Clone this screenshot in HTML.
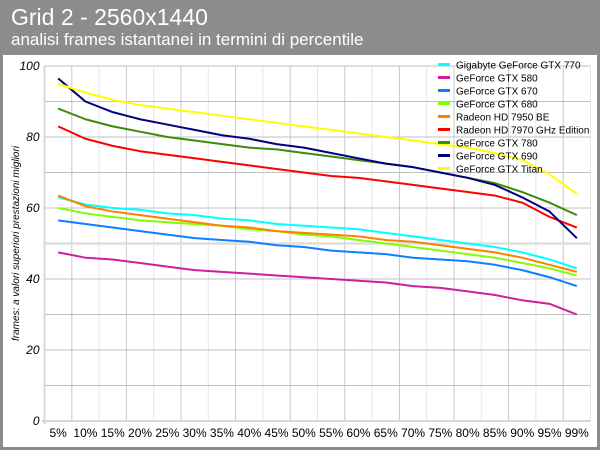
<!DOCTYPE html>
<html><head><meta charset="utf-8"><style>
html,body{margin:0;padding:0;background:#fff}
#wrap{position:relative;width:600px;height:450px;background:#8c8c8c;font-family:"Liberation Sans",sans-serif;overflow:hidden}
#panel{position:absolute;left:3px;top:55px;width:594px;height:392px;background:#fff}
.t1{position:absolute;left:11px;top:4px;color:#fff;font-size:23px}
.t2{position:absolute;left:11px;top:30px;color:#fff;font-size:17px}
svg{position:absolute;left:0;top:0}
</style></head><body>
<div id="wrap">
<div id="panel"></div>
<div class="t1">Grid 2 - 2560x1440</div>
<div class="t2">analisi frames istantanei in termini di percentile</div>
<svg id="chart" width="600" height="450"></svg>
</div>
<script>
const categories=["5%","10%","15%","20%","25%","30%","35%","40%","45%","50%","55%","60%","65%","70%","75%","80%","85%","90%","95%","99%"];
const yTicks=[0,20,40,60,80,100];
const seriesNames=["Gigabyte GeForce GTX 770","GeForce GTX 580","GeForce GTX 670","GeForce GTX 680","Radeon HD 7950 BE","Radeon HD 7970 GHz Edition","GeForce GTX 780","GeForce GTX 690","GeForce GTX Titan"];
const seriesColors=["#00ffff","#cc1f9c","#0a80ff","#80ff00","#ff8000","#ff0000","#3c8c0a","#000080","#ffff00"];
const s770=[63,61,60,59.5,58.5,58,57,56.5,55.5,55,54.5,54,53,52,51,50,49,47.5,45.5,43];
const s580=[47.5,46,45.5,44.5,43.5,42.5,42,41.5,41,40.5,40,39.5,39,38,37.5,36.5,35.5,34,33,30];
const s670=[56.5,55.5,54.5,53.5,52.5,51.5,51,50.5,49.5,49,48,47.5,47,46,45.5,45,44,42.5,40.5,38];
const s680=[60,58.5,57.5,56.5,56,55.5,55,54,53.5,52.5,52,51,50,49,48,47,46,44.5,43,41];
const s7950=[63.5,60.5,59,58,57,56,55,54.5,53.5,53,52.5,52,51,50.5,49.5,48.5,47.5,46,44,42];
const s7970=[83,79.5,77.5,76,75,74,73,72,71,70,69,68.5,67.5,66.5,65.5,64.5,63.5,61.5,57.5,54.5];
const s780=[88,85,83,81.5,80,79,78,77,76.5,75.5,74.5,73.5,72.5,71.5,70,68.5,67,64.5,61.5,58];
const s690=[96.5,90,87,85,83.5,82,80.5,79.5,78,77,75.5,74,72.5,71.5,70,68.5,66.5,63,59,51.5];
const sTitan=[95,92.5,90.5,89,88,87,86,85,84,83,82,81,80,79,78,77,75.5,73.5,69.5,64];
const seriesData=[s770,s580,s670,s680,s7950,s7970,s780,s690,sTitan];

const svg=document.getElementById('chart');
const NS='http://www.w3.org/2000/svg';
const L=44.5,R=590.5,T=66,B=421,yMax=100;
const band=(R-L)/categories.length;
const xS=i=>L+band*(i+0.5);
const yS=v=>B-(v/yMax)*(B-T);
function mk(tag,attrs){const e=document.createElementNS(NS,tag);for(const k in attrs)e.setAttribute(k,attrs[k]);svg.appendChild(e);return e;}
// vertical grid
for(let i=1;i<=categories.length;i++){
  const x=L+band*i;
  const g=mk('line',{x1:x,x2:x,y1:T,y2:B,stroke:i%2?'#c8c8c8':'#e6e6e6','stroke-width':1});
  
  
}
// horizontal grid every 10
for(let v=10;v<=yMax;v+=10){
  const y=yS(v);
  const g=mk('line',{x1:L,x2:R,y1:y,y2:y,stroke:v===50?'#dddddd':'#c0c0c0','stroke-width':v===50?2.5:1});
  
  
}
// axes
const ax=mk('line',{x1:L,x2:L,y1:T,y2:B+3,stroke:'#d8d8d8','stroke-width':2});


const bx=mk('line',{x1:L-3,x2:R,y1:B,y2:B,stroke:'#d8d8d8','stroke-width':2});


yTicks.forEach(v=>{
  const t=mk('text',{x:L-5,y:yS(v)+4,'text-anchor':'end','font-size':12,'font-style':'italic',fill:'#000','font-family':'Liberation Sans, sans-serif'});
  t.textContent=v;
  
  
});
categories.forEach((c,i)=>{
  const t=mk('text',{x:xS(i),y:437,'text-anchor':'middle','font-size':12,fill:'#000','font-family':'Liberation Sans, sans-serif'});
  t.textContent=c;
  
  
});
const yt=mk('text',{x:0,y:0,'font-size':10,'font-style':'italic',fill:'#000','text-anchor':'middle','font-family':'Liberation Sans, sans-serif',transform:'translate(19,'+((T+B)/2)+') rotate(-90)'});
yt.textContent='frames: a valori superiori prestazioni migliori';


// series
seriesData.forEach((d,si)=>{
  const p=mk('polyline',{points:d.map((v,i)=>xS(i)+','+yS(v)).join(' '),fill:'none',stroke:seriesColors[si],'stroke-width':2,'stroke-linejoin':'round'});
  
  
});
// legend
seriesNames.forEach((n,i)=>{
  const y=64.5+i*13;
  const l=mk('line',{x1:438,x2:450,y1:y,y2:y,stroke:seriesColors[i],'stroke-width':3});
  
  
  const t=mk('text',{x:456,y:y+4,'font-size':10,fill:'#000','font-family':'Liberation Sans, sans-serif'});
  t.textContent=n;
  
  
});
</script>
</body></html>
